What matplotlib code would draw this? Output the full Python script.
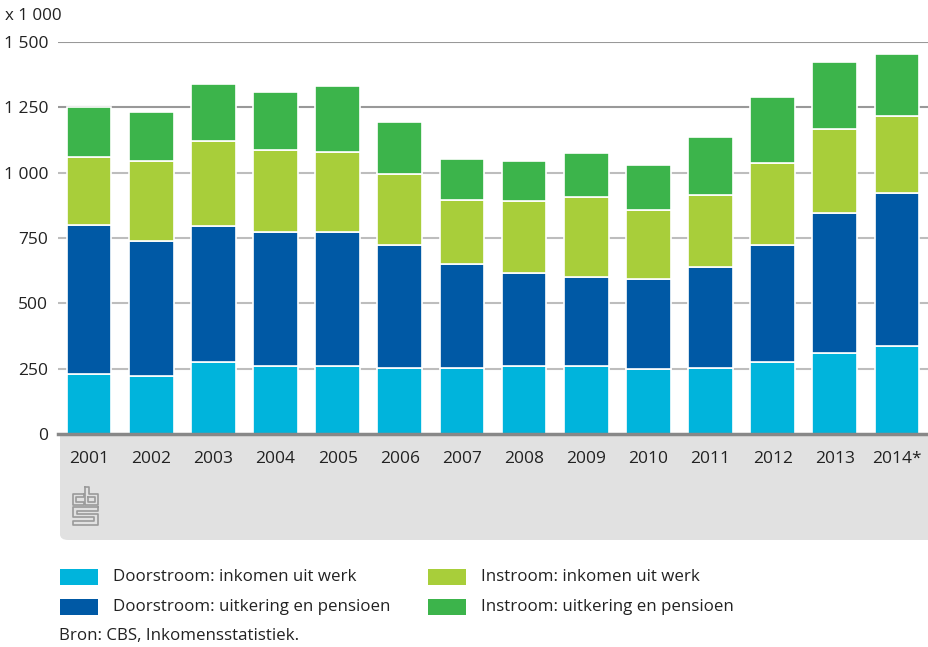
import matplotlib
matplotlib.use("Agg")
import matplotlib.pyplot as plt
from matplotlib.patches import Rectangle, FancyBboxPatch
from matplotlib.lines import Line2D
import numpy as np

plt.rcParams['font.family'] = ['Open Sans', 'DejaVu Sans']

# data (x 1 000)
jaren = ['2001', '2002', '2003', '2004', '2005', '2006', '2007',
         '2008', '2009', '2010', '2011', '2012', '2013', '2014*']
door_werk = [231, 223, 274, 260, 260, 254, 254, 260, 260, 247, 254, 274, 310, 338]
door_uitk = [570, 514, 521, 514, 514, 470, 398, 357, 342, 347, 384, 451, 536, 586]
in_werk = [258, 309, 328, 314, 306, 272, 245, 273, 306, 265, 278, 313, 320, 292]
in_uitk = [194, 185, 215, 222, 251, 199, 155, 156, 166, 171, 222, 251, 258, 237]

reeksen = ['Doorstroom: inkomen uit werk', 'Doorstroom: uitkering en pensioen',
           'Instroom: inkomen uit werk', 'Instroom: uitkering en pensioen']
kleuren = ['#00b4dc', '#0059a5', '#a8ce3a', '#3cb44b']

yticks = [0, 250, 500, 750, 1000, 1250, 1500]
ylabels = ['0', '250', '500', '750', '1 000', '1 250', '1 500']

W, H = 929, 647
fig = plt.figure(figsize=(W / 100, H / 100), dpi=100)

def fx(px):
    return px / W

def fy(py):
    return 1 - py / H

# grijze band onder de as
band = FancyBboxPatch((fx(60), fy(540)), fx(1000) - fx(60), fy(420) - fy(540),
                      boxstyle='round,pad=0,rounding_size=0.009',
                      transform=fig.transFigure, facecolor='#e1e1e1',
                      edgecolor='none', zorder=-2)
fig.patches.append(band)

ax = fig.add_axes([fx(58), fy(434), fx(928) - fx(58), fy(42) - fy(434)])
ax.set_facecolor('white')

x = np.arange(len(jaren))
onder = np.zeros(len(jaren))
for waarden, kleur in zip([door_werk, door_uitk, in_werk, in_uitk], kleuren):
    ax.bar(x, waarden, width=0.72, bottom=onder, color=kleur,
           edgecolor='white', linewidth=1.2, zorder=3)
    onder = onder + np.array(waarden)

# rasterlijnen
for t in yticks[1:]:
    kleur = '#999999' if t >= 1250 else '#bdbdbd'
    ax.axhline(t, color=kleur, linewidth=1.5, zorder=1)

ax.set_xlim(-0.5, len(jaren) - 0.5)
ax.set_ylim(0, 1500)
ax.set_yticks(yticks)
ax.set_yticklabels(ylabels)
ax.set_xticks(x)
ax.set_xticklabels(jaren)
ax.tick_params(axis='both', length=0, labelsize=12.5, colors='#222222')
ax.tick_params(axis='x', pad=12)
ax.tick_params(axis='y', pad=7)
for s in ['top', 'left', 'right']:
    ax.spines[s].set_visible(False)
ax.spines['bottom'].set_color('#888888')
ax.spines['bottom'].set_linewidth(2.5)
ax.spines['bottom'].set_zorder(5)

fig.text(fx(5), fy(16), 'x 1 000', fontsize=12.2, color='#222222', va='center')

# CBS logo (grof nagetekend)
logo = [
    [(84, 494), (73, 494), (73, 505), (84, 505), (84, 502), (76, 502),
     (76, 497), (84, 497), (84, 494)],
    [(85, 487), (85, 505), (98, 505), (98, 494), (89, 494), (89, 487), (85, 487)],
    [(88, 497), (95, 497), (95, 502), (88, 502), (88, 497)],
    [(98, 507), (73, 507), (73, 517), (94, 517), (94, 521), (73, 521), (73, 525),
     (98, 525), (98, 514), (77, 514), (77, 511), (98, 511), (98, 507)],
]
for lijn in logo:
    xs = [fx(p[0]) for p in lijn]
    ys = [fy(p[1]) for p in lijn]
    fig.add_artist(Line2D(xs, ys, transform=fig.transFigure, color='#9a9a9a', linewidth=1.2))

# legenda
posities = [(60, 577), (60, 607), (428, 577), (428, 607)]
for naam, kleur, (px, py) in zip(reeksen, kleuren, posities):
    fig.patches.append(Rectangle((fx(px), fy(py + 8)), fx(38), fy(0) - fy(16),
                                 transform=fig.transFigure, facecolor=kleur,
                                 edgecolor='none'))
    fig.text(fx(px + 53), fy(py), naam, fontsize=12.2, color='#222222', va='center')

fig.text(fx(59), fy(636), 'Bron: CBS, Inkomensstatistiek.', fontsize=12.2,
         color='#222222', va='center')

fig.savefig('out.png', dpi=100)
